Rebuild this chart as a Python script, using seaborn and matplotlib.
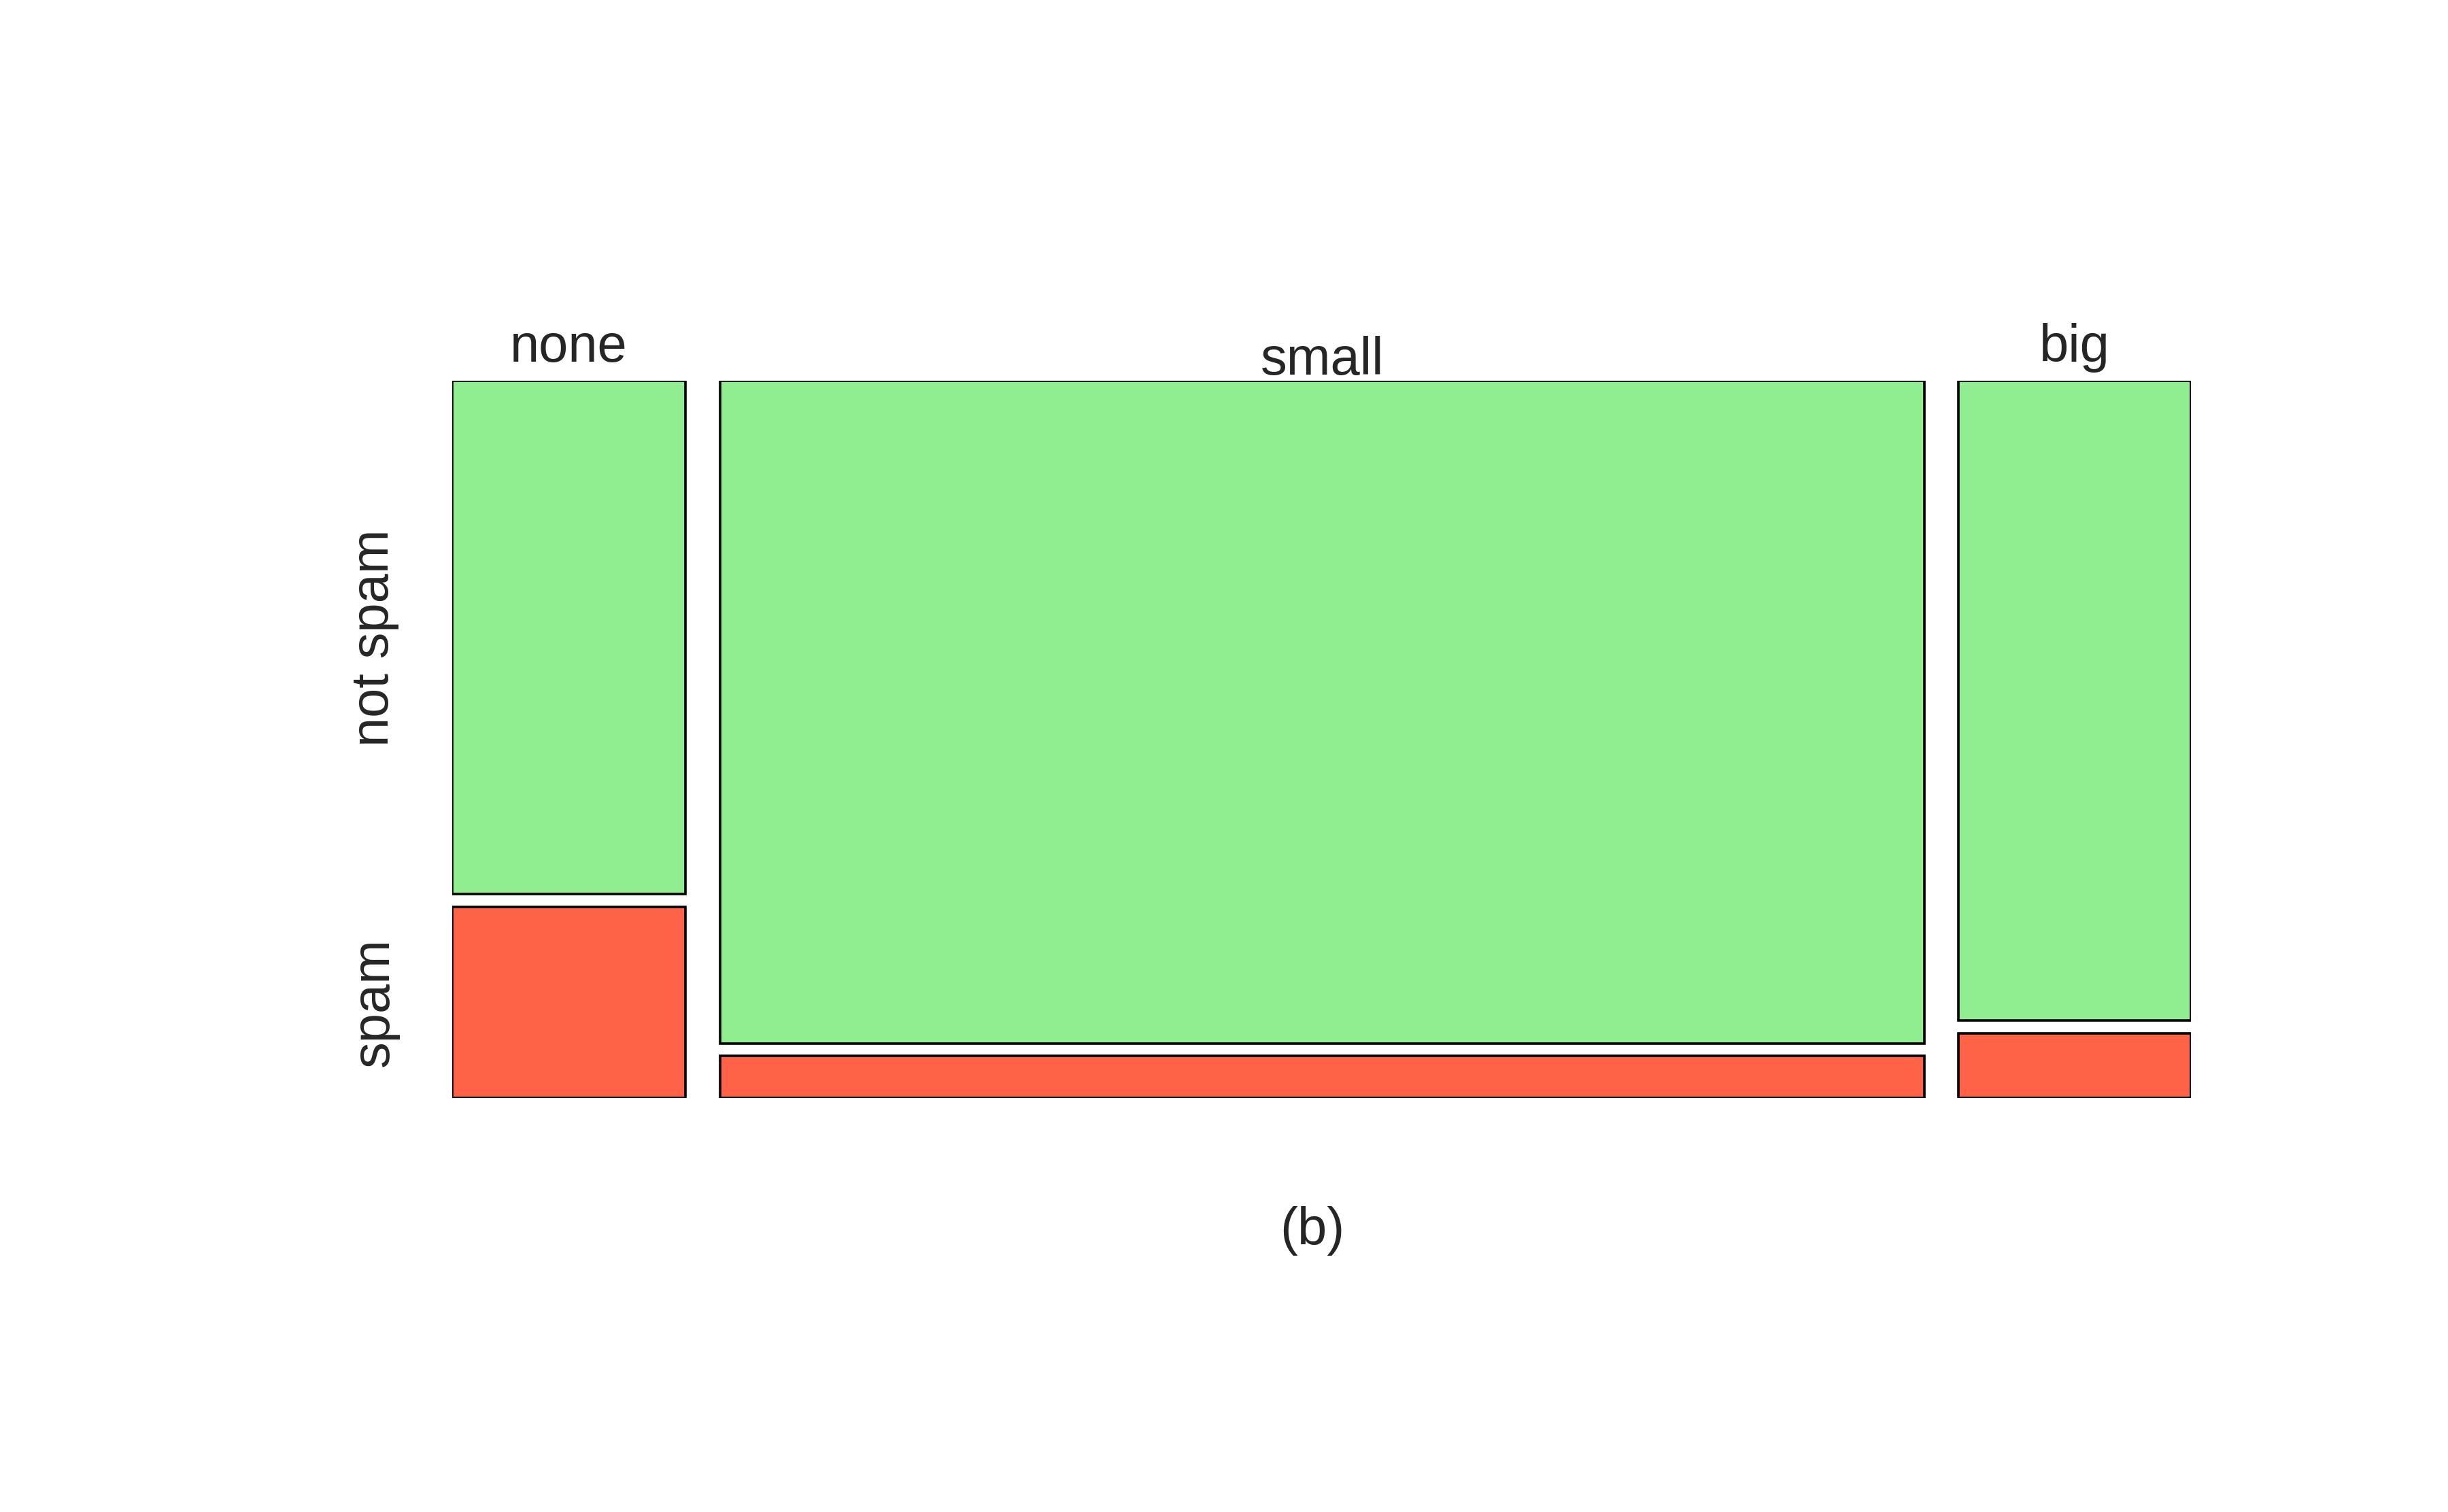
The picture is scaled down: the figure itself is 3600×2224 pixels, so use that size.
import matplotlib
matplotlib.use("Agg")
import matplotlib.pyplot as plt
import numpy as np
import pandas as pd
import seaborn as sns

# email data: number category vs spam
categories = ["none", "small", "big"]
not_spam = [400, 2659, 495]
spam = [149, 168, 50]
row_labels = ["not spam", "spam"]
colors = {"not spam": "#90EE90", "spam": "#FF6347"}

sns.set_style("white")
plt.rcParams["font.family"] = ["Liberation Sans", "DejaVu Sans"]

df = pd.DataFrame({"number": categories, "not spam": not_spam, "spam": spam})
df["total"] = df["not spam"] + df["spam"]
widths = (df["total"] / df["total"].sum()).to_numpy()
gap_x = 22 / 1064
gap_y = 8 / 449
lefts = np.concatenate([[0], np.cumsum(widths[:-1])]) + np.arange(len(widths)) * gap_x

fig = plt.figure(figsize=(18, 11.12), dpi=200)
ax = fig.add_axes([0.1846, 0.274, 0.7103, 0.474])
for left, w, (_, row) in zip(lefts, widths, df.iterrows()):
    sp = row["spam"] / row["total"]
    ns = 1 - sp
    ax.bar(left, sp, width=w, bottom=0, align="edge", color=colors["spam"],
           edgecolor="black", linewidth=1.3)
    ax.bar(left, ns, width=w, bottom=sp + gap_y, align="edge", color=colors["not spam"],
           edgecolor="black", linewidth=1.3)

ax.set_xlim(0, 1 + 2 * gap_x)
ax.set_ylim(0, 1 + gap_y)
ax.axis("off")

offsets = [0.012, -0.006, 0.012]
for left, w, name, off in zip(lefts, widths, categories, offsets):
    ax.text(left + w / 2, 1 + gap_y + off, name, ha="center", va="bottom", fontsize=28)

sp0 = df["spam"].iloc[0] / df["total"].iloc[0]
fig.text(0.153, 0.748 - (0.474 * (1 - sp0) / (1 + gap_y)) / 2, "not spam", rotation=90,
         ha="center", va="center", fontsize=28)
fig.text(0.153, 0.274 + (0.474 * sp0 / (1 + gap_y)) / 2, "spam", rotation=90,
         ha="center", va="center", fontsize=28)
fig.text(0.536, 0.186, "(b)", ha="center", va="center", fontsize=28)

fig.savefig("out.png", dpi=200, facecolor="white")
